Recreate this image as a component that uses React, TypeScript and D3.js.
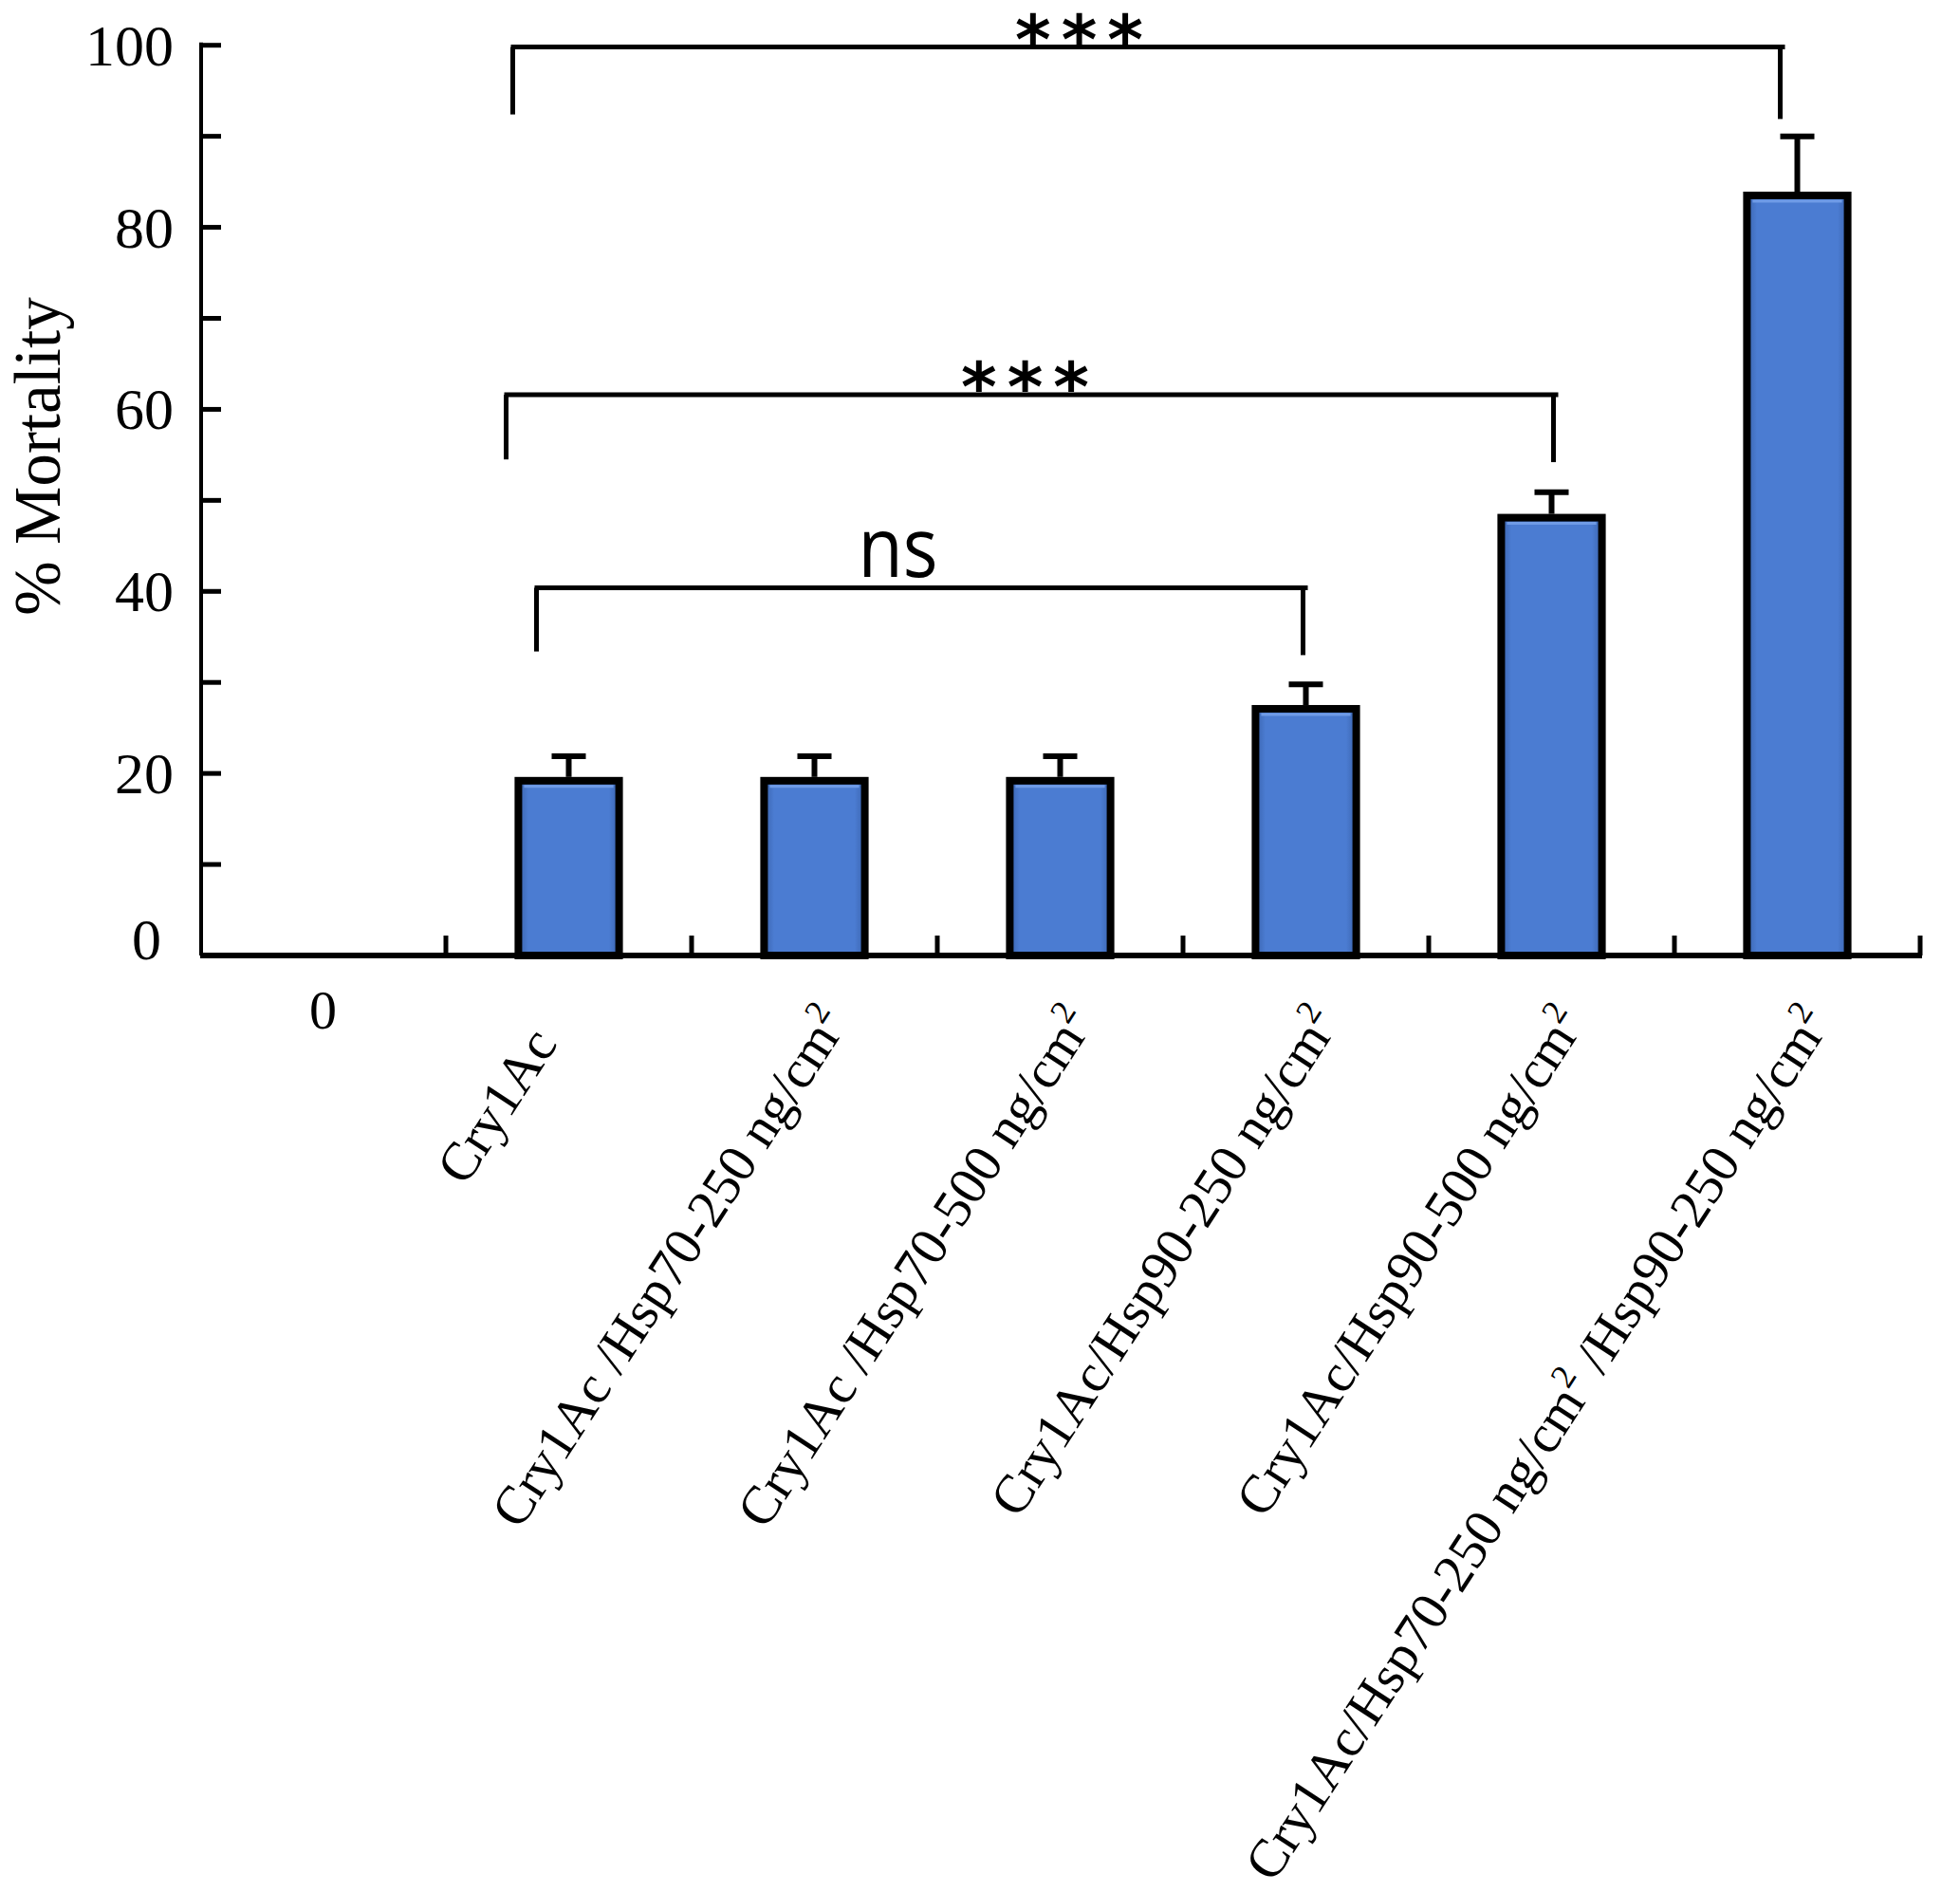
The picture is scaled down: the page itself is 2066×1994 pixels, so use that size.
import React from "react";
import * as d3 from "d3";

// ---------- data ----------
const categories = [
  "0",
  "Cry1Ac",
  "Cry1Ac /Hsp70-250 ng/cm²",
  "Cry1Ac /Hsp70-500 ng/cm²",
  "Cry1Ac/Hsp90-250 ng/cm²",
  "Cry1Ac/Hsp90-500 ng/cm²",
  "Cry1Ac/Hsp70-250 ng/cm² /Hsp90-250 ng/cm²",
];
const mortality = [0, 19.2, 19.2, 19.2, 27.1, 48.1, 83.5];
const errors = [0, 2.7, 2.7, 2.7, 2.7, 2.8, 6.5];
const yTicks = [0, 10, 20, 30, 40, 50, 60, 70, 80, 90, 100];
const yTickLabels = [0, 20, 40, 60, 80, 100];
// significance comparisons
const compFrom = [1, 1, 1];
const compTo = [4, 5, 6];
const compLevel = [40.4, 61.6, 99.8];
const compLeftBottom = [33.4, 54.5, 92.4];
const compRightBottom = [33.0, 54.2, 91.9];
const compLabels = ["ns", "***", "***"];

// ---------- layout (pixels) ----------
const W = 2066;
const H = 1994;
const legLeftOffset = [-34, -66, -59];
const legRightOffset = [-3, 2, -18];
const compLabelOffset = [-23, -5, -71];
const xLabelDx = [0, -48, 0, 0, 0, 0, 0];
const xLabelDy = [0, 22, 0, 0, 0, 0, 0];

const serif = "'Times New Roman', 'Liberation Serif', serif";

function renderLabel(s: string) {
  // turn "²" into a real superscript tspan
  const parts = s.split("²");
  const out: React.ReactNode[] = [];
  parts.forEach((p, i) => {
    if (p.length) out.push(<tspan key={"p" + i}>{p}</tspan>);
    if (i < parts.length - 1) {
      out.push(
        <tspan key={"s" + i} fontSize={36} dy={-23}>
          2
        </tspan>
      );
      if (i < parts.length - 2 || parts[parts.length - 1].length) {
        out.push(
          <tspan key={"r" + i} dy={23}>
            {"\u200B"}
          </tspan>
        );
      }
    }
  });
  return out;
}

export default function App() {
  const x = d3.scaleBand<string>().domain(categories).range([211, 2024]).padding(0);
  const y = d3.scaleLinear().domain([0, 100]).range([1007, 47.7]);
  const step = x.step();
  const bw = x.bandwidth() * 0.41;
  const cx = (i: number) => (x(categories[i]) as number) + x.bandwidth() / 2;
  const ang = 57;

  return (
    <svg
      width={W}
      height={H}
      style={{ position: "absolute", left: 0, top: 0, background: "#fff", display: "block" }}
    >
      <defs>
        <linearGradient id="barFill" x1="0" x2="1" y1="0" y2="0">
          <stop offset="0%" stopColor="#3a63ad" />
          <stop offset="10%" stopColor="#4b7cd2" />
          <stop offset="90%" stopColor="#4b7cd2" />
          <stop offset="100%" stopColor="#3a63ad" />
        </linearGradient>
      </defs>
      <rect x={0} y={0} width={W} height={H} fill="#fff" />

      {/* bars */}
      {mortality.map((v, i) =>
        v > 0 ? (
          <g key={"b" + i}>
            <rect
              x={cx(i) - bw / 2}
              y={y(v)}
              width={bw}
              height={y(0) - y(v)}
              fill="url(#barFill)"
              stroke="#000"
              strokeWidth={8}
            />
            <line
              x1={cx(i) - bw / 2 + 6}
              x2={cx(i) + bw / 2 - 6}
              y1={y(v) + 6}
              y2={y(v) + 6}
              stroke="#6f9be6"
              strokeWidth={3}
            />
          </g>
        ) : null
      )}

      {/* error bars */}
      {mortality.map((v, i) =>
        errors[i] > 0 ? (
          <g key={"e" + i} stroke="#000">
            <line x1={cx(i)} x2={cx(i)} y1={y(v) - 4} y2={y(v + errors[i])} strokeWidth={6} />
            <line
              x1={cx(i) - 18}
              x2={cx(i) + 18}
              y1={y(v + errors[i])}
              y2={y(v + errors[i])}
              strokeWidth={6}
            />
          </g>
        ) : null
      )}

      {/* y axis */}
      <line x1={212} x2={212} y1={y(100) - 3} y2={y(0)} stroke="#000" strokeWidth={4} />
      {yTicks.map((t) => (
        <line key={"yt" + t} x1={212} x2={233} y1={y(t)} y2={y(t)} stroke="#000" strokeWidth={5} />
      ))}
      {yTickLabels.map((t) => (
        <text
          key={"yl" + t}
          x={t === 0 ? 170 : 183}
          y={y(t) + (t === 0 ? -17 : 0) + 21}
          textAnchor="end"
          fontFamily={serif}
          fontSize={62}
          fill="#000"
        >
          {t}
        </text>
      ))}
      <text
        transform={`translate(63, 481) rotate(-90)`}
        textAnchor="middle"
        fontFamily={serif}
        fontSize={69}
        fill="#000"
      >
        % Mortality
      </text>

      {/* x axis */}
      <line x1={211} x2={2026} y1={y(0)} y2={y(0)} stroke="#000" strokeWidth={6} />
      {categories.map((c, i) => {
        const tx = (x(c) as number) + step;
        return <line key={"xt" + i} x1={tx} x2={tx} y1={y(0)} y2={y(0) - 21} stroke="#000" strokeWidth={5} />;
      })}
      {categories.map((c, i) => {
        if (i === 0) {
          return (
            <text key={"xl" + i} x={cx(i)} y={1084} textAnchor="middle" fontFamily={serif} fontSize={58} fill="#000">
              {c}
            </text>
          );
        }
        const ex = cx(i) + 37 + xLabelDx[i];
        const ey = 1078 + xLabelDy[i];
        return (
          <text
            key={"xl" + i}
            transform={`translate(${ex}, ${ey}) rotate(${-ang})`}
            textAnchor="end"
            fontFamily={serif}
            fontSize={57}
            fill="#000"
          >
            {renderLabel(c)}
          </text>
        );
      })}

      {/* significance brackets */}
      {compLabels.map((lab, k) => {
        const xl = cx(compFrom[k]) + legLeftOffset[k];
        const xr = cx(compTo[k]) + legRightOffset[k];
        const yl = y(compLevel[k]);
        const mid = (xl + xr) / 2 + compLabelOffset[k];
        return (
          <g key={"c" + k}>
            <line x1={xl - 2} x2={xr + 5} y1={yl} y2={yl} stroke="#000" strokeWidth={5} />
            <line x1={xl} x2={xl} y1={yl} y2={y(compLeftBottom[k])} stroke="#000" strokeWidth={5} />
            <line x1={xr} x2={xr} y1={yl} y2={y(compRightBottom[k])} stroke="#000" strokeWidth={5} />
            {lab === "ns" ? (
              <text
                x={mid}
                y={yl - 11}
                textAnchor="middle"
                fontFamily="'Open Sans', 'Noto Sans', sans-serif"
                fontSize={88}
                textLength={84}
                lengthAdjust="spacingAndGlyphs"
                fill="#000"
              >
                {lab}
              </text>
            ) : (
              <text
                x={mid + 5.5}
                y={yl + 17}
                textAnchor="middle"
                fontFamily="'DejaVu Sans', sans-serif"
                fontWeight="bold"
                fontSize={72}
                letterSpacing={11}
                fill="#000"
              >
                {lab}
              </text>
            )}
          </g>
        );
      })}
    </svg>
  );
}
